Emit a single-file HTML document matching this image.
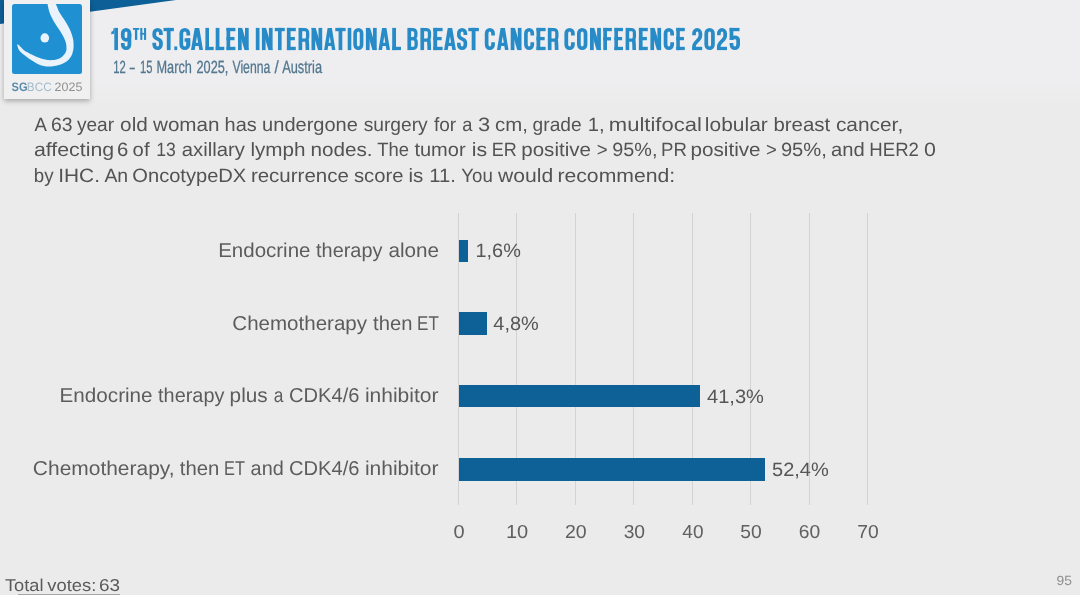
<!DOCTYPE html>
<html><head><meta charset="utf-8"><title>SGBCC 2025</title>
<style>
html,body{margin:0;padding:0}
body{width:1080px;height:595px;overflow:hidden;background:linear-gradient(#eeeef0 0,#eeeef0 80px,#ebebeb 108px,#ebebeb 100%);font-family:"Liberation Sans",sans-serif;position:relative}
.t{position:absolute;left:0;top:0;white-space:nowrap;transform-origin:0 0;text-rendering:geometricPrecision;}
#txt{position:absolute;left:0;top:0;width:1080px;height:595px;will-change:transform;filter:blur(0.35px)}
.grid{position:absolute;top:213px;height:292px;width:1px;background:#d3d3d3}
.bar{position:absolute;left:459px;background:#0e6196}
#banner{position:absolute;left:0;top:0;width:200px;height:30px}
#card{position:absolute;left:4px;top:0;width:86px;height:99px;background:#f0f0f0;box-shadow:0 2px 5px rgba(0,0,0,.30)}
#sq{position:absolute;left:11.7px;top:4.4px;width:70.3px;height:69.4px;border-radius:2.5px;background:#1f91d3;overflow:hidden}
#uline{position:absolute;left:18px;top:594px;width:102px;height:1px;background:#a6a6a6}
</style></head><body>
<svg id="banner" viewBox="0 0 200 30"><polygon points="0,0 176,0 0,24" fill="#0d5f97"/></svg>
<div id="card"></div>
<div id="sq"><svg width="70" height="70" viewBox="0 0 70 70">
<path d="M42.6,-1.5 C44.5,0.1 45.4,4.8 47.2,7.9 C49.0,11.0 51.5,14.3 53.3,17.2 C55.1,20.1 56.6,22.6 57.9,25.5 C59.2,28.4 60.4,32.0 61.0,34.8 C61.6,37.6 61.6,40.2 61.6,42.2 C61.6,44.2 61.4,45.4 61.0,47.0 C60.6,48.6 60.3,50.3 59.3,52.0 C58.3,53.7 57.1,55.5 55.2,57.0 C53.3,58.5 50.9,59.8 47.8,60.7 C44.7,61.6 40.0,62.6 36.6,62.6 C33.2,62.6 30.3,61.8 27.4,60.7 C24.5,59.6 21.7,57.8 19.1,56.1 C16.5,54.4 13.6,52.2 11.6,50.5 C9.6,48.8 8.1,47.6 7.0,45.9 C6.0,44.2 5.2,41.2 5.3,40.5 C5.3,39.8 6.2,40.6 7.3,41.5 C8.3,42.4 10.1,44.7 11.6,45.9 C13.1,47.1 14.3,47.6 16.3,48.7 C18.3,49.8 21.1,51.3 23.7,52.4 C26.3,53.5 29.2,54.6 32.0,55.2 C34.8,55.8 37.8,56.3 40.4,56.1 C43.0,55.9 45.8,55.1 47.8,54.2 C49.8,53.3 51.1,51.9 52.2,50.5 C53.3,49.1 54.1,47.9 54.4,45.9 C54.7,43.9 54.4,41.0 53.8,38.5 C53.1,36.0 51.8,33.6 50.5,31.1 C49.2,28.6 47.4,26.0 45.9,23.7 C44.4,21.4 43.0,19.4 41.7,17.2 C40.4,15.0 39.2,12.8 38.3,10.6 C37.4,8.4 36.8,6.2 36.4,4.2 C36.0,2.2 35.0,-0.5 36.0,-1.5 C37.0,-2.5 40.7,-3.1 42.6,-1.5Z" fill="#eaf3fb"/>
<ellipse cx="32.8" cy="33.9" rx="4.3" ry="4.6" fill="#eaf3fb"/>
</svg></div>
<div class="grid" style="left:458px"></div>
<div class="grid" style="left:516px"></div>
<div class="grid" style="left:575px"></div>
<div class="grid" style="left:633px"></div>
<div class="grid" style="left:692px"></div>
<div class="grid" style="left:750px"></div>
<div class="grid" style="left:809px"></div>
<div class="grid" style="left:867px"></div>
<div class="bar" style="top:240px;height:22.0px;width:9.2px"></div>
<div class="bar" style="top:312px;height:23.0px;width:27.8px"></div>
<div class="bar" style="top:385px;height:22.4px;width:241.3px"></div>
<div class="bar" style="top:458.2px;height:22.4px;width:306.0px"></div>
<svg id="ttl" aria-hidden="true" style="position:absolute;left:100px;top:20px;color:#278bc7;filter:blur(0.4px)" width="660" height="40" viewBox="100 20 660 40" fill="currentColor">
<g transform="translate(111.30,27.9) scale(1.0000,1)"><rect x="3.00" y="0.00" width="3.70" height="22.20"/><polygon points="3.10,0.00 3.10,5.60 0.00,6.50 0.00,3.80 1.70,3.00 2.50,0.00"/></g>
<g transform="translate(120.90,27.9) scale(1.0097,1)"><path d="M8.45,5.55 V8.35 A3.30,3.70 0 0 1 1.85,8.35 V5.55 A3.30,3.70 0 0 1 8.45,5.55 Z" fill="none" stroke="currentColor" stroke-width="3.70" stroke-linejoin="miter" stroke-miterlimit="10"/><path d="M8.45,5.55 V16.65 A3.30,3.70 0 0 1 1.85,16.65 V15.2" fill="none" stroke="currentColor" stroke-width="3.70" stroke-linejoin="miter" stroke-miterlimit="10"/></g>
<g transform="translate(152.40,27.9) scale(1.0097,1)"><path d="M8.45,7.2 V5.55 A3.30,3.70 0 0 0 1.85,5.55 V7.6 C1.85,11.6 8.45,10.4 8.45,14.6 V16.65 A3.30,3.70 0 0 1 1.85,16.65 V14.9" fill="none" stroke="currentColor" stroke-width="3.70" stroke-linejoin="miter" stroke-miterlimit="10"/></g>
<g transform="translate(163.50,27.9) scale(1.0196,1)"><rect x="0.00" y="0.00" width="10.20" height="3.30"/><rect x="3.25" y="0.00" width="3.70" height="22.20"/></g>
<g transform="translate(174.30,27.9) scale(0.9667,1)"><rect x="0.00" y="18.50" width="3.00" height="3.70"/></g>
<g transform="translate(179.40,27.9) scale(1.0189,1)"><path d="M8.75,7.5 V5.55 A3.45,3.70 0 0 0 1.85,5.55 V16.65 A3.45,3.70 0 0 0 8.75,16.65 V12.1 H5.10" fill="none" stroke="currentColor" stroke-width="3.70" stroke-linejoin="miter" stroke-miterlimit="10"/><rect x="6.90" y="10.45" width="3.70" height="7.75"/></g>
<g transform="translate(191.00,27.9) scale(1.0345,1)"><path d="M0,22.2 L3.60,0 L8.00,0 L11.6,22.2 L8.05,22.2 L7.37,18.0 L4.23,18.0 L3.55,22.2 Z M5.80,8.32 L6.87,14.9 L4.73,14.9 Z" fill-rule="evenodd"/></g>
<g transform="translate(205.40,27.9) scale(0.9765,1)"><rect x="0.00" y="0.00" width="3.70" height="22.20"/><rect x="0.00" y="18.90" width="8.50" height="3.30"/></g>
<g transform="translate(215.70,27.9) scale(1.0118,1)"><rect x="0.00" y="0.00" width="3.70" height="22.20"/><rect x="0.00" y="18.90" width="8.50" height="3.30"/></g>
<g transform="translate(226.50,27.9) scale(1.0000,1)"><rect x="0.00" y="0.00" width="3.70" height="22.20"/><rect x="0.00" y="0.00" width="8.90" height="3.30"/><rect x="0.00" y="9.05" width="8.00" height="3.30"/><rect x="0.00" y="18.90" width="8.90" height="3.30"/></g>
<g transform="translate(238.00,27.9) scale(1.0000,1)"><rect x="0.00" y="0.00" width="3.70" height="22.20"/><rect x="7.00" y="0.00" width="3.70" height="22.20"/><polygon points="0.00,0.00 4.20,0.00 10.70,22.20 6.50,22.20"/></g>
<g transform="translate(255.80,27.9) scale(1.0000,1)"><rect x="0.00" y="0.00" width="3.70" height="22.20"/></g>
<g transform="translate(261.90,27.9) scale(1.0000,1)"><rect x="0.00" y="0.00" width="3.70" height="22.20"/><rect x="7.00" y="0.00" width="3.70" height="22.20"/><polygon points="0.00,0.00 4.20,0.00 10.70,22.20 6.50,22.20"/></g>
<g transform="translate(274.80,27.9) scale(0.9804,1)"><rect x="0.00" y="0.00" width="10.20" height="3.30"/><rect x="3.25" y="0.00" width="3.70" height="22.20"/></g>
<g transform="translate(286.90,27.9) scale(1.0000,1)"><rect x="0.00" y="0.00" width="3.70" height="22.20"/><rect x="0.00" y="0.00" width="8.90" height="3.30"/><rect x="0.00" y="9.05" width="8.00" height="3.30"/><rect x="0.00" y="18.90" width="8.90" height="3.30"/></g>
<g transform="translate(298.50,27.9) scale(1.0093,1)"><rect x="0.00" y="0.00" width="3.70" height="22.20"/><path d="M1.85,1.65 H6.05 A3.00,3.20 0 0 1 9.05,4.85 V9.10 A3.00,3.20 0 0 1 6.05,12.30 H1.85" fill="none" stroke="currentColor" stroke-width="3.30" stroke-linejoin="miter" stroke-miterlimit="10"/><path d="M8.35,11.6 C8.55,14 8.85,17 8.85,22.2" fill="none" stroke="currentColor" stroke-width="3.70" stroke-linejoin="miter" stroke-miterlimit="10"/></g>
<g transform="translate(311.50,27.9) scale(1.0000,1)"><rect x="0.00" y="0.00" width="3.70" height="22.20"/><rect x="7.00" y="0.00" width="3.70" height="22.20"/><polygon points="0.00,0.00 4.20,0.00 10.70,22.20 6.50,22.20"/></g>
<g transform="translate(324.10,27.9) scale(0.9741,1)"><path d="M0,22.2 L3.60,0 L8.00,0 L11.6,22.2 L8.05,22.2 L7.37,18.0 L4.23,18.0 L3.55,22.2 Z M5.80,8.32 L6.87,14.9 L4.73,14.9 Z" fill-rule="evenodd"/></g>
<g transform="translate(335.30,27.9) scale(1.0098,1)"><rect x="0.00" y="0.00" width="10.20" height="3.30"/><rect x="3.25" y="0.00" width="3.70" height="22.20"/></g>
<g transform="translate(347.70,27.9) scale(0.9730,1)"><rect x="0.00" y="0.00" width="3.70" height="22.20"/></g>
<g transform="translate(353.30,27.9) scale(0.9806,1)"><path d="M8.45,5.55 V16.65 A3.30,3.70 0 0 1 1.85,16.65 V5.55 A3.30,3.70 0 0 1 8.45,5.55 Z" fill="none" stroke="currentColor" stroke-width="3.70" stroke-linejoin="miter" stroke-miterlimit="10"/></g>
<g transform="translate(365.90,27.9) scale(1.0093,1)"><rect x="0.00" y="0.00" width="3.70" height="22.20"/><rect x="7.00" y="0.00" width="3.70" height="22.20"/><polygon points="0.00,0.00 4.20,0.00 10.70,22.20 6.50,22.20"/></g>
<g transform="translate(378.50,27.9) scale(0.9914,1)"><path d="M0,22.2 L3.60,0 L8.00,0 L11.6,22.2 L8.05,22.2 L7.37,18.0 L4.23,18.0 L3.55,22.2 Z M5.80,8.32 L6.87,14.9 L4.73,14.9 Z" fill-rule="evenodd"/></g>
<g transform="translate(392.20,27.9) scale(1.0353,1)"><rect x="0.00" y="0.00" width="3.70" height="22.20"/><rect x="0.00" y="18.90" width="8.50" height="3.30"/></g>
<g transform="translate(407.40,27.9) scale(1.0000,1)"><rect x="0.00" y="0.00" width="3.70" height="22.20"/><path d="M1.85,1.65 H5.45 A3.00,3.20 0 0 1 8.45,4.85 V7.50 A3.00,3.20 0 0 1 5.45,10.70 H1.85" fill="none" stroke="currentColor" stroke-width="3.30" stroke-linejoin="miter" stroke-miterlimit="10"/><path d="M1.85,10.70 H5.75 A3.00,3.20 0 0 1 8.75,13.90 V17.35 A3.00,3.20 0 0 1 5.75,20.55 H1.85" fill="none" stroke="currentColor" stroke-width="3.30" stroke-linejoin="miter" stroke-miterlimit="10"/></g>
<g transform="translate(420.40,27.9) scale(1.0000,1)"><rect x="0.00" y="0.00" width="3.70" height="22.20"/><path d="M1.85,1.65 H6.05 A3.00,3.20 0 0 1 9.05,4.85 V9.10 A3.00,3.20 0 0 1 6.05,12.30 H1.85" fill="none" stroke="currentColor" stroke-width="3.30" stroke-linejoin="miter" stroke-miterlimit="10"/><path d="M8.35,11.6 C8.55,14 8.85,17 8.85,22.2" fill="none" stroke="currentColor" stroke-width="3.70" stroke-linejoin="miter" stroke-miterlimit="10"/></g>
<g transform="translate(433.30,27.9) scale(1.0449,1)"><rect x="0.00" y="0.00" width="3.70" height="22.20"/><rect x="0.00" y="0.00" width="8.90" height="3.30"/><rect x="0.00" y="9.05" width="8.00" height="3.30"/><rect x="0.00" y="18.90" width="8.90" height="3.30"/></g>
<g transform="translate(444.10,27.9) scale(1.0172,1)"><path d="M0,22.2 L3.60,0 L8.00,0 L11.6,22.2 L8.05,22.2 L7.37,18.0 L4.23,18.0 L3.55,22.2 Z M5.80,8.32 L6.87,14.9 L4.73,14.9 Z" fill-rule="evenodd"/></g>
<g transform="translate(457.00,27.9) scale(0.9903,1)"><path d="M8.45,7.2 V5.55 A3.30,3.70 0 0 0 1.85,5.55 V7.6 C1.85,11.6 8.45,10.4 8.45,14.6 V16.65 A3.30,3.70 0 0 1 1.85,16.65 V14.9" fill="none" stroke="currentColor" stroke-width="3.70" stroke-linejoin="miter" stroke-miterlimit="10"/></g>
<g transform="translate(468.30,27.9) scale(1.0392,1)"><rect x="0.00" y="0.00" width="10.20" height="3.30"/><rect x="3.25" y="0.00" width="3.70" height="22.20"/></g>
<g transform="translate(484.80,27.9) scale(0.9902,1)"><path d="M8.35,7.7 V5.55 A3.25,3.70 0 0 0 1.85,5.55 V16.65 A3.25,3.70 0 0 0 8.35,16.65 V14.4" fill="none" stroke="currentColor" stroke-width="3.70" stroke-linejoin="miter" stroke-miterlimit="10"/></g>
<g transform="translate(497.00,27.9) scale(0.9914,1)"><path d="M0,22.2 L3.60,0 L8.00,0 L11.6,22.2 L8.05,22.2 L7.37,18.0 L4.23,18.0 L3.55,22.2 Z M5.80,8.32 L6.87,14.9 L4.73,14.9 Z" fill-rule="evenodd"/></g>
<g transform="translate(510.70,27.9) scale(1.0093,1)"><rect x="0.00" y="0.00" width="3.70" height="22.20"/><rect x="7.00" y="0.00" width="3.70" height="22.20"/><polygon points="0.00,0.00 4.20,0.00 10.70,22.20 6.50,22.20"/></g>
<g transform="translate(524.10,27.9) scale(0.9804,1)"><path d="M8.35,7.7 V5.55 A3.25,3.70 0 0 0 1.85,5.55 V16.65 A3.25,3.70 0 0 0 8.35,16.65 V14.4" fill="none" stroke="currentColor" stroke-width="3.70" stroke-linejoin="miter" stroke-miterlimit="10"/></g>
<g transform="translate(536.50,27.9) scale(1.0225,1)"><rect x="0.00" y="0.00" width="3.70" height="22.20"/><rect x="0.00" y="0.00" width="8.90" height="3.30"/><rect x="0.00" y="9.05" width="8.00" height="3.30"/><rect x="0.00" y="18.90" width="8.90" height="3.30"/></g>
<g transform="translate(547.80,27.9) scale(1.0000,1)"><rect x="0.00" y="0.00" width="3.70" height="22.20"/><path d="M1.85,1.65 H6.05 A3.00,3.20 0 0 1 9.05,4.85 V9.10 A3.00,3.20 0 0 1 6.05,12.30 H1.85" fill="none" stroke="currentColor" stroke-width="3.30" stroke-linejoin="miter" stroke-miterlimit="10"/><path d="M8.35,11.6 C8.55,14 8.85,17 8.85,22.2" fill="none" stroke="currentColor" stroke-width="3.70" stroke-linejoin="miter" stroke-miterlimit="10"/></g>
<g transform="translate(564.40,27.9) scale(1.0196,1)"><path d="M8.35,7.7 V5.55 A3.25,3.70 0 0 0 1.85,5.55 V16.65 A3.25,3.70 0 0 0 8.35,16.65 V14.4" fill="none" stroke="currentColor" stroke-width="3.70" stroke-linejoin="miter" stroke-miterlimit="10"/></g>
<g transform="translate(577.00,27.9) scale(1.0097,1)"><path d="M8.45,5.55 V16.65 A3.30,3.70 0 0 1 1.85,16.65 V5.55 A3.30,3.70 0 0 1 8.45,5.55 Z" fill="none" stroke="currentColor" stroke-width="3.70" stroke-linejoin="miter" stroke-miterlimit="10"/></g>
<g transform="translate(590.00,27.9) scale(1.0187,1)"><rect x="0.00" y="0.00" width="3.70" height="22.20"/><rect x="7.00" y="0.00" width="3.70" height="22.20"/><polygon points="0.00,0.00 4.20,0.00 10.70,22.20 6.50,22.20"/></g>
<g transform="translate(603.30,27.9) scale(1.0000,1)"><rect x="0.00" y="0.00" width="3.70" height="22.20"/><rect x="0.00" y="0.00" width="8.60" height="3.30"/><rect x="0.00" y="9.25" width="7.70" height="3.30"/></g>
<g transform="translate(614.40,27.9) scale(0.9663,1)"><rect x="0.00" y="0.00" width="3.70" height="22.20"/><rect x="0.00" y="0.00" width="8.90" height="3.30"/><rect x="0.00" y="9.05" width="8.00" height="3.30"/><rect x="0.00" y="18.90" width="8.90" height="3.30"/></g>
<g transform="translate(625.60,27.9) scale(0.9720,1)"><rect x="0.00" y="0.00" width="3.70" height="22.20"/><path d="M1.85,1.65 H6.05 A3.00,3.20 0 0 1 9.05,4.85 V9.10 A3.00,3.20 0 0 1 6.05,12.30 H1.85" fill="none" stroke="currentColor" stroke-width="3.30" stroke-linejoin="miter" stroke-miterlimit="10"/><path d="M8.35,11.6 C8.55,14 8.85,17 8.85,22.2" fill="none" stroke="currentColor" stroke-width="3.70" stroke-linejoin="miter" stroke-miterlimit="10"/></g>
<g transform="translate(638.90,27.9) scale(1.0000,1)"><rect x="0.00" y="0.00" width="3.70" height="22.20"/><rect x="0.00" y="0.00" width="8.90" height="3.30"/><rect x="0.00" y="9.05" width="8.00" height="3.30"/><rect x="0.00" y="18.90" width="8.90" height="3.30"/></g>
<g transform="translate(650.40,27.9) scale(1.0000,1)"><rect x="0.00" y="0.00" width="3.70" height="22.20"/><rect x="7.00" y="0.00" width="3.70" height="22.20"/><polygon points="0.00,0.00 4.20,0.00 10.70,22.20 6.50,22.20"/></g>
<g transform="translate(663.70,27.9) scale(1.0098,1)"><path d="M8.35,7.7 V5.55 A3.25,3.70 0 0 0 1.85,5.55 V16.65 A3.25,3.70 0 0 0 8.35,16.65 V14.4" fill="none" stroke="currentColor" stroke-width="3.70" stroke-linejoin="miter" stroke-miterlimit="10"/></g>
<g transform="translate(676.30,27.9) scale(0.9551,1)"><rect x="0.00" y="0.00" width="3.70" height="22.20"/><rect x="0.00" y="0.00" width="8.90" height="3.30"/><rect x="0.00" y="9.05" width="8.00" height="3.30"/><rect x="0.00" y="18.90" width="8.90" height="3.30"/></g>
<g transform="translate(692.20,27.9) scale(1.0000,1)"><path d="M1.85,7.4 V5.55 A3.15,3.70 0 0 1 8.15,5.55 V8.0 C8.15,12.2 1.85,14.0 1.85,18.4 V22.00" fill="none" stroke="currentColor" stroke-width="3.70" stroke-linejoin="miter" stroke-miterlimit="10"/><rect x="0.00" y="18.90" width="10.00" height="3.30"/></g>
<g transform="translate(704.40,27.9) scale(1.0097,1)"><path d="M8.45,5.55 V16.65 A3.30,3.70 0 0 1 1.85,16.65 V5.55 A3.30,3.70 0 0 1 8.45,5.55 Z" fill="none" stroke="currentColor" stroke-width="3.70" stroke-linejoin="miter" stroke-miterlimit="10"/></g>
<g transform="translate(717.00,27.9) scale(1.0000,1)"><path d="M1.85,7.4 V5.55 A3.15,3.70 0 0 1 8.15,5.55 V8.0 C8.15,12.2 1.85,14.0 1.85,18.4 V22.00" fill="none" stroke="currentColor" stroke-width="3.70" stroke-linejoin="miter" stroke-miterlimit="10"/><rect x="0.00" y="18.90" width="10.00" height="3.30"/></g>
<g transform="translate(729.60,27.9) scale(1.0097,1)"><rect x="0.00" y="0.00" width="9.80" height="3.30"/><rect x="0.00" y="0.00" width="3.70" height="11.80"/><path d="M1.85,11.8 V12.00 A3.30,2.6 0 0 1 8.45,12.00 V16.65 A3.30,3.70 0 0 1 1.85,16.65 V15.0" fill="none" stroke="currentColor" stroke-width="3.70" stroke-linejoin="miter" stroke-miterlimit="10"/></g>
<g transform="translate(132.90,28.0) scale(0.6275,0.5360)"><rect x="0.00" y="0.00" width="10.20" height="3.30"/><rect x="3.25" y="0.00" width="3.70" height="22.20"/></g>
<g transform="translate(140.30,28.0) scale(0.5577,0.5360)"><rect x="0.00" y="0.00" width="3.70" height="22.20"/><rect x="6.70" y="0.00" width="3.70" height="22.20"/><rect x="0.00" y="9.15" width="10.40" height="3.30"/></g>
</svg>
<div id="txt">
<div class="t" id="t19" style="transform:translate(109.95px,24.45px) scaleX(0.6577);font-size:31.69px;line-height:31.69px;color:transparent;font-weight:700;">19</div>
<div class="t" id="tth" style="transform:translate(133.85px,26.97px) scaleX(0.5724);font-size:16.86px;line-height:16.86px;color:transparent;font-weight:700;">TH</div>
<div class="t" id="tst" style="transform:translate(151.30px,24.45px) scaleX(0.5645);font-size:31.69px;line-height:31.69px;color:transparent;font-weight:700;">ST.GALLEN</div>
<div class="t" id="tin" style="transform:translate(254.10px,24.45px) scaleX(0.5734);font-size:31.69px;line-height:31.69px;color:transparent;font-weight:700;">INTERNATIONAL</div>
<div class="t" id="tbr" style="transform:translate(406.85px,24.45px) scaleX(0.5331);font-size:31.69px;line-height:31.69px;color:transparent;font-weight:700;">BREAST</div>
<div class="t" id="tca" style="transform:translate(483.80px,24.45px) scaleX(0.5547);font-size:31.69px;line-height:31.69px;color:transparent;font-weight:700;">CANCER</div>
<div class="t" id="tco" style="transform:translate(564.10px,24.45px) scaleX(0.5435);font-size:31.69px;line-height:31.69px;color:transparent;font-weight:700;">CONFERENCE</div>
<div class="t" id="t25" style="transform:translate(691.30px,24.45px) scaleX(0.6986);font-size:31.69px;line-height:31.69px;color:transparent;font-weight:700;">2025</div>
<div class="t" id="subw0" style="transform:translate(113.20px,59.43px) scaleX(0.6360);font-size:17.73px;line-height:17.73px;color:#52778f;font-weight:400;-webkit-text-stroke:0.3px #52778f;">12</div>
<div class="t" id="subw1" style="transform:translate(129.70px,58.66px) scaleX(0.5099);font-size:17.73px;line-height:17.73px;color:#52778f;font-weight:400;-webkit-text-stroke:0.3px #52778f;">&ndash;</div>
<div class="t" id="subw2" style="transform:translate(139.90px,59.30px) scaleX(0.6318);font-size:17.73px;line-height:17.73px;color:#52778f;font-weight:400;-webkit-text-stroke:0.3px #52778f;">15</div>
<div class="t" id="subw3" style="transform:translate(156.50px,58.55px) scaleX(0.7173);font-size:17.73px;line-height:17.73px;color:#52778f;font-weight:400;-webkit-text-stroke:0.3px #52778f;">March</div>
<div class="t" id="subw4" style="transform:translate(196.50px,58.61px) scaleX(0.7180);font-size:17.73px;line-height:17.73px;color:#52778f;font-weight:400;-webkit-text-stroke:0.3px #52778f;">2025,</div>
<div class="t" id="subw5" style="transform:translate(232.45px,59.48px) scaleX(0.6905);font-size:17.73px;line-height:17.73px;color:#52778f;font-weight:400;-webkit-text-stroke:0.3px #52778f;">Vienna</div>
<div class="t" id="subw6" style="transform:translate(274.45px,59.17px) scaleX(0.8635);font-size:17.73px;line-height:17.73px;color:#52778f;font-weight:400;-webkit-text-stroke:0.3px #52778f;">/</div>
<div class="t" id="subw7" style="transform:translate(282.15px,59.46px) scaleX(0.7241);font-size:17.73px;line-height:17.73px;color:#52778f;font-weight:400;-webkit-text-stroke:0.3px #52778f;">Austria</div>
<div class="t" id="b1w0" style="transform:translate(34.40px,115.87px) scaleX(0.9664);font-size:19.19px;line-height:19.19px;color:#535353;font-weight:400;">A</div>
<div class="t" id="b1w1" style="transform:translate(51.00px,115.78px) scaleX(1.0105);font-size:19.19px;line-height:19.19px;color:#535353;font-weight:400;">63</div>
<div class="t" id="b1w2" style="transform:translate(76.90px,115.84px) scaleX(0.9962);font-size:19.19px;line-height:19.19px;color:#535353;font-weight:400;">year</div>
<div class="t" id="b1w3" style="transform:translate(120.10px,115.78px) scaleX(1.0823);font-size:19.19px;line-height:19.19px;color:#535353;font-weight:400;">old</div>
<div class="t" id="b1w4" style="transform:translate(153.00px,115.78px) scaleX(1.0749);font-size:19.19px;line-height:19.19px;color:#535353;font-weight:400;">woman</div>
<div class="t" id="b1w5" style="transform:translate(224.60px,115.78px) scaleX(1.0400);font-size:19.19px;line-height:19.19px;color:#535353;font-weight:400;">has</div>
<div class="t" id="b1w6" style="transform:translate(262.10px,115.78px) scaleX(1.0440);font-size:19.19px;line-height:19.19px;color:#535353;font-weight:400;">undergone</div>
<div class="t" id="b1w7" style="transform:translate(363.65px,115.84px) scaleX(1.0008);font-size:19.19px;line-height:19.19px;color:#535353;font-weight:400;">surgery</div>
<div class="t" id="b1w8" style="transform:translate(433.90px,115.85px) scaleX(0.9936);font-size:19.19px;line-height:19.19px;color:#535353;font-weight:400;">for</div>
<div class="t" id="b1w9" style="transform:translate(462.25px,115.85px) scaleX(0.9500);font-size:19.19px;line-height:19.19px;color:#535353;font-weight:400;">a</div>
<div class="t" id="b1w10" style="transform:translate(477.90px,115.78px) scaleX(1.1415);font-size:19.19px;line-height:19.19px;color:#535353;font-weight:400;">3</div>
<div class="t" id="b1w11" style="transform:translate(495.10px,115.78px) scaleX(1.0617);font-size:19.19px;line-height:19.19px;color:#535353;font-weight:400;">cm,</div>
<div class="t" id="b1w12" style="transform:translate(532.60px,115.87px) scaleX(1.0001);font-size:19.19px;line-height:19.19px;color:#535353;font-weight:400;">grade</div>
<div class="t" id="b1w13" style="transform:translate(587.65px,115.78px) scaleX(1.0559);font-size:19.19px;line-height:19.19px;color:#535353;font-weight:400;">1,</div>
<div class="t" id="b1w14" style="transform:translate(608.85px,115.78px) scaleX(1.1465);font-size:19.19px;line-height:19.19px;color:#535353;font-weight:400;">multifocal</div>
<div class="t" id="b1w15" style="transform:translate(704.85px,115.78px) scaleX(1.0929);font-size:19.19px;line-height:19.19px;color:#535353;font-weight:400;">lobular</div>
<div class="t" id="b1w16" style="transform:translate(773.40px,115.78px) scaleX(1.0635);font-size:19.19px;line-height:19.19px;color:#535353;font-weight:400;">breast</div>
<div class="t" id="b1w17" style="transform:translate(835.90px,115.78px) scaleX(1.0875);font-size:19.19px;line-height:19.19px;color:#535353;font-weight:400;">cancer,</div>
<div class="t" id="b2w0" style="transform:translate(33.90px,140.74px) scaleX(1.1122);font-size:19.19px;line-height:19.19px;color:#535353;font-weight:400;">affecting</div>
<div class="t" id="b2w1" style="transform:translate(117.00px,140.74px) scaleX(1.0579);font-size:19.19px;line-height:19.19px;color:#535353;font-weight:400;">6</div>
<div class="t" id="b2w2" style="transform:translate(132.60px,140.74px) scaleX(1.0594);font-size:19.19px;line-height:19.19px;color:#535353;font-weight:400;">of</div>
<div class="t" id="b2w3" style="transform:translate(156.25px,141.33px) scaleX(0.9188);font-size:19.19px;line-height:19.19px;color:#535353;font-weight:400;">13</div>
<div class="t" id="b2w4" style="transform:translate(181.75px,140.74px) scaleX(1.0553);font-size:19.19px;line-height:19.19px;color:#535353;font-weight:400;">axillary</div>
<div class="t" id="b2w5" style="transform:translate(250.40px,140.74px) scaleX(1.0770);font-size:19.19px;line-height:19.19px;color:#535353;font-weight:400;">lymph</div>
<div class="t" id="b2w6" style="transform:translate(310.40px,140.74px) scaleX(1.0799);font-size:19.19px;line-height:19.19px;color:#535353;font-weight:400;">nodes.</div>
<div class="t" id="b2w7" style="transform:translate(377.25px,141.30px) scaleX(0.9592);font-size:19.19px;line-height:19.19px;color:#535353;font-weight:400;">The</div>
<div class="t" id="b2w8" style="transform:translate(414.40px,140.74px) scaleX(1.0435);font-size:19.19px;line-height:19.19px;color:#535353;font-weight:400;">tumor</div>
<div class="t" id="b2w9" style="transform:translate(471.75px,140.74px) scaleX(1.1090);font-size:19.19px;line-height:19.19px;color:#535353;font-weight:400;">is</div>
<div class="t" id="b2w10" style="transform:translate(491.85px,141.30px) scaleX(0.9385);font-size:19.19px;line-height:19.19px;color:#535353;font-weight:400;">ER</div>
<div class="t" id="b2w11" style="transform:translate(521.25px,140.74px) scaleX(1.0714);font-size:19.19px;line-height:19.19px;color:#535353;font-weight:400;">positive</div>
<div class="t" id="b2w12" style="transform:translate(596.75px,140.70px) scaleX(0.9696);font-size:19.19px;line-height:19.19px;color:#535353;font-weight:400;">&gt;</div>
<div class="t" id="b2w13" style="transform:translate(612.25px,140.74px) scaleX(1.0319);font-size:19.19px;line-height:19.19px;color:#535353;font-weight:400;">95%,</div>
<div class="t" id="b2w14" style="transform:translate(661.00px,141.30px) scaleX(0.9714);font-size:19.19px;line-height:19.19px;color:#535353;font-weight:400;">PR</div>
<div class="t" id="b2w15" style="transform:translate(690.40px,140.74px) scaleX(1.0794);font-size:19.19px;line-height:19.19px;color:#535353;font-weight:400;">positive</div>
<div class="t" id="b2w16" style="transform:translate(765.90px,141.33px) scaleX(0.9596);font-size:19.19px;line-height:19.19px;color:#535353;font-weight:400;">&gt;</div>
<div class="t" id="b2w17" style="transform:translate(780.90px,140.74px) scaleX(1.0498);font-size:19.19px;line-height:19.19px;color:#535353;font-weight:400;">95%,</div>
<div class="t" id="b2w18" style="transform:translate(830.90px,140.74px) scaleX(1.0536);font-size:19.19px;line-height:19.19px;color:#535353;font-weight:400;">and</div>
<div class="t" id="b2w19" style="transform:translate(869.35px,141.31px) scaleX(0.9683);font-size:19.19px;line-height:19.19px;color:#535353;font-weight:400;">HER2</div>
<div class="t" id="b2w20" style="transform:translate(923.90px,140.74px) scaleX(1.1146);font-size:19.19px;line-height:19.19px;color:#535353;font-weight:400;">0</div>
<div class="t" id="b3w0" style="transform:translate(33.75px,166.57px) scaleX(0.9766);font-size:19.19px;line-height:19.19px;color:#535353;font-weight:400;">by</div>
<div class="t" id="b3w1" style="transform:translate(58.25px,166.50px) scaleX(1.0873);font-size:19.19px;line-height:19.19px;color:#535353;font-weight:400;">IHC.</div>
<div class="t" id="b3w2" style="transform:translate(104.40px,166.69px) scaleX(1.0137);font-size:19.19px;line-height:19.19px;color:#535353;font-weight:400;">An</div>
<div class="t" id="b3w3" style="transform:translate(132.35px,166.50px) scaleX(1.0465);font-size:19.19px;line-height:19.19px;color:#535353;font-weight:400;">OncotypeDX</div>
<div class="t" id="b3w4" style="transform:translate(250.90px,166.50px) scaleX(1.0676);font-size:19.19px;line-height:19.19px;color:#535353;font-weight:400;">recurrence</div>
<div class="t" id="b3w5" style="transform:translate(353.90px,166.50px) scaleX(1.0561);font-size:19.19px;line-height:19.19px;color:#535353;font-weight:400;">score</div>
<div class="t" id="b3w6" style="transform:translate(408.40px,166.50px) scaleX(1.0691);font-size:19.19px;line-height:19.19px;color:#535353;font-weight:400;">is</div>
<div class="t" id="b3w7" style="transform:translate(429.35px,166.50px) scaleX(1.0529);font-size:19.19px;line-height:19.19px;color:#535353;font-weight:400;">11.</div>
<div class="t" id="b3w8" style="transform:translate(461.25px,166.52px) scaleX(0.9739);font-size:19.19px;line-height:19.19px;color:#535353;font-weight:400;">You</div>
<div class="t" id="b3w9" style="transform:translate(498.10px,166.50px) scaleX(1.1011);font-size:19.19px;line-height:19.19px;color:#535353;font-weight:400;">would</div>
<div class="t" id="b3w10" style="transform:translate(557.40px,166.50px) scaleX(1.1048);font-size:19.19px;line-height:19.19px;color:#535353;font-weight:400;">recommend:</div>
<div class="t" id="l1w0" style="transform:translate(218.15px,240.72px) scaleX(1.0228);font-size:20.06px;line-height:20.06px;color:#5c5c5c;font-weight:400;">Endocrine</div>
<div class="t" id="l1w1" style="transform:translate(316.10px,240.95px) scaleX(0.9910);font-size:20.06px;line-height:20.06px;color:#5c5c5c;font-weight:400;">therapy</div>
<div class="t" id="l1w2" style="transform:translate(388.40px,240.72px) scaleX(1.0317);font-size:20.06px;line-height:20.06px;color:#5c5c5c;font-weight:400;">alone</div>
<div class="t" id="l2w0" style="transform:translate(232.35px,314.44px) scaleX(1.0241);font-size:20.06px;line-height:20.06px;color:#5c5c5c;font-weight:400;">Chemotherapy</div>
<div class="t" id="l2w1" style="transform:translate(373.10px,314.44px) scaleX(1.0069);font-size:20.06px;line-height:20.06px;color:#5c5c5c;font-weight:400;">then</div>
<div class="t" id="l2w2" style="transform:translate(417.10px,313.86px) scaleX(0.8492);font-size:20.06px;line-height:20.06px;color:#5c5c5c;font-weight:400;">ET</div>
<div class="t" id="l3w0" style="transform:translate(59.60px,385.96px) scaleX(1.0302);font-size:20.06px;line-height:20.06px;color:#5c5c5c;font-weight:400;">Endocrine</div>
<div class="t" id="l3w1" style="transform:translate(158.10px,386.05px) scaleX(0.9910);font-size:20.06px;line-height:20.06px;color:#5c5c5c;font-weight:400;">therapy</div>
<div class="t" id="l3w2" style="transform:translate(229.60px,385.96px) scaleX(1.0344);font-size:20.06px;line-height:20.06px;color:#5c5c5c;font-weight:400;">plus</div>
<div class="t" id="l3w3" style="transform:translate(273.65px,386.11px) scaleX(0.8654);font-size:20.06px;line-height:20.06px;color:#5c5c5c;font-weight:400;">a</div>
<div class="t" id="l3w4" style="transform:translate(289.00px,385.96px) scaleX(1.0030);font-size:20.06px;line-height:20.06px;color:#5c5c5c;font-weight:400;">CDK4/6</div>
<div class="t" id="l3w5" style="transform:translate(364.90px,385.96px) scaleX(1.0475);font-size:20.06px;line-height:20.06px;color:#5c5c5c;font-weight:400;">inhibitor</div>
<div class="t" id="l4w0" style="transform:translate(32.85px,459.38px) scaleX(1.0452);font-size:20.06px;line-height:20.06px;color:#5c5c5c;font-weight:400;">Chemotherapy,</div>
<div class="t" id="l4w1" style="transform:translate(179.75px,459.38px) scaleX(1.0133);font-size:20.06px;line-height:20.06px;color:#5c5c5c;font-weight:400;">then</div>
<div class="t" id="l4w2" style="transform:translate(224.10px,458.55px) scaleX(0.8154);font-size:20.06px;line-height:20.06px;color:#5c5c5c;font-weight:400;">ET</div>
<div class="t" id="l4w3" style="transform:translate(250.60px,459.41px) scaleX(0.9905);font-size:20.06px;line-height:20.06px;color:#5c5c5c;font-weight:400;">and</div>
<div class="t" id="l4w4" style="transform:translate(289.00px,459.38px) scaleX(1.0030);font-size:20.06px;line-height:20.06px;color:#5c5c5c;font-weight:400;">CDK4/6</div>
<div class="t" id="l4w5" style="transform:translate(364.90px,459.38px) scaleX(1.0475);font-size:20.06px;line-height:20.06px;color:#5c5c5c;font-weight:400;">inhibitor</div>
<div class="t" id="d1" style="transform:translate(475.50px,241.52px) scaleX(1.0286);font-size:19.33px;line-height:19.33px;color:#565656;font-weight:400;">1,6%</div>
<div class="t" id="d2" style="transform:translate(493.35px,314.60px) scaleX(1.0304);font-size:19.33px;line-height:19.33px;color:#565656;font-weight:400;">4,8%</div>
<div class="t" id="d3" style="transform:translate(707.00px,387.79px) scaleX(1.0382);font-size:19.33px;line-height:19.33px;color:#565656;font-weight:400;">41,3%</div>
<div class="t" id="d4" style="transform:translate(772.05px,461.28px) scaleX(1.0348);font-size:19.33px;line-height:19.33px;color:#565656;font-weight:400;">52,4%</div>
<div class="t" id="a0" style="transform:translate(453.45px,523.49px) scaleX(1.0656);font-size:18.75px;line-height:18.75px;color:#606060;font-weight:400;">0</div>
<div class="t" id="a1" style="transform:translate(505.96px,523.49px) scaleX(1.0675);font-size:18.75px;line-height:18.75px;color:#606060;font-weight:400;">10</div>
<div class="t" id="a2" style="transform:translate(564.92px,523.49px) scaleX(1.0398);font-size:18.75px;line-height:18.75px;color:#606060;font-weight:400;">20</div>
<div class="t" id="a3" style="transform:translate(623.63px,522.66px) scaleX(1.0261);font-size:18.75px;line-height:18.75px;color:#606060;font-weight:400;">30</div>
<div class="t" id="a4" style="transform:translate(682.34px,523.49px) scaleX(1.0131);font-size:18.75px;line-height:18.75px;color:#606060;font-weight:400;">40</div>
<div class="t" id="a5" style="transform:translate(740.30px,523.49px) scaleX(1.0273);font-size:18.75px;line-height:18.75px;color:#606060;font-weight:400;">50</div>
<div class="t" id="a6" style="transform:translate(798.76px,522.52px) scaleX(1.0266);font-size:18.75px;line-height:18.75px;color:#606060;font-weight:400;">60</div>
<div class="t" id="a7" style="transform:translate(857.22px,523.49px) scaleX(1.0261);font-size:18.75px;line-height:18.75px;color:#606060;font-weight:400;">70</div>
<div class="t" id="tvw0" style="transform:translate(4.90px,576.56px) scaleX(1.0649);font-size:17.15px;line-height:17.15px;color:#5a5a5a;font-weight:400;">Total</div>
<div class="t" id="tvw1" style="transform:translate(47.30px,576.56px) scaleX(1.0717);font-size:17.15px;line-height:17.15px;color:#5a5a5a;font-weight:400;">votes:</div>
<div class="t" id="tvw2" style="transform:translate(99.00px,576.56px) scaleX(1.1032);font-size:17.15px;line-height:17.15px;color:#5a5a5a;font-weight:400;">63</div>
<div class="t" id="pg" style="transform:translate(1056.50px,574.49px) scaleX(1.0379);font-size:13.37px;line-height:13.37px;color:#8e8e8e;font-weight:400;">95</div>
<div class="t" id="lg1" style="transform:translate(11.55px,81.04px) scaleX(0.9091);font-size:12.21px;line-height:12.21px;color:#5b8cab;font-weight:700;">SG</div>
<div class="t" id="lg2" style="transform:translate(26.85px,80.57px) scaleX(0.9637);font-size:12.21px;line-height:12.21px;color:#a3bbcb;font-weight:400;">BCC</div>
<div class="t" id="lg3" style="transform:translate(54.60px,81.03px) scaleX(1.0235);font-size:12.21px;line-height:12.21px;color:#909090;font-weight:400;">2025</div>
</div>
<div id="uline"></div>
</body></html>
